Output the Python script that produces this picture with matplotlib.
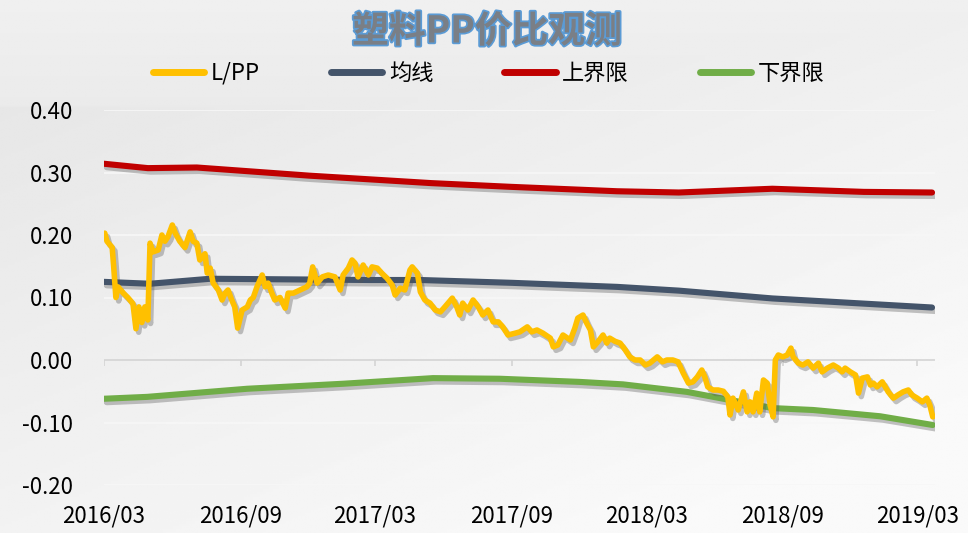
import numpy as np
import pandas as pd
import matplotlib
matplotlib.use("Agg")
import matplotlib.pyplot as plt
import matplotlib.patheffects as pe

plt.rcParams['font.family'] = ['Noto Sans CJK SC', 'DejaVu Sans']

start = pd.Timestamp('2016-03-01')

# L/PP 价比 (天数从 2016/03/01 起算)
lpp_days = [1, 4, 11, 13, 16, 19, 26, 32, 39, 43, 47, 51, 55, 59, 62, 66, 73, 78, 82, 86,
            92, 96, 102, 109, 116, 120, 125, 129, 136, 139, 143, 147, 154, 159, 163, 167, 172, 176, 180, 186,
            193, 197, 201, 206, 213, 217, 221, 226, 230, 237, 244, 248, 255, 264, 273, 277, 281, 287, 294, 302,
            311, 318, 322, 329, 334, 338, 342, 349, 356, 361, 368, 374, 381, 388, 392, 399, 405, 412, 415, 422,
            426, 432, 439, 446, 453, 459, 469, 475, 479, 483, 490, 497, 504, 510, 517, 524, 531, 537, 544, 554,
            560, 570, 576, 583, 591, 601, 605, 611, 618, 628, 634, 638, 645, 650, 655, 659, 665, 672, 677, 681,
            688, 695, 702, 708, 715, 722, 729, 735, 745, 752, 758, 766, 773, 780, 787, 793, 799, 805, 809, 813,
            820, 827, 834, 840, 843, 847, 854, 861, 866, 870, 874, 879, 883, 888, 893, 897, 901, 904, 908, 914,
            920, 925, 928, 935, 941, 948, 955, 962, 967, 974, 982, 989, 994, 998, 1005, 1012, 1016, 1021, 1028, 1032,
            1036, 1041, 1048, 1052, 1056, 1063, 1069, 1076, 1083, 1088, 1095, 1102, 1108, 1112, 1116]
lpp_vals = [0.203, 0.190, 0.180, 0.150, 0.100, 0.117, 0.107, 0.100, 0.090, 0.050, 0.085, 0.060, 0.085, 0.064, 0.187, 0.173, 0.176, 0.200, 0.190, 0.197,
            0.216, 0.203, 0.190, 0.180, 0.205, 0.190, 0.187, 0.160, 0.170, 0.139, 0.147, 0.123, 0.112, 0.096, 0.107, 0.112, 0.096, 0.085, 0.051, 0.080,
            0.085, 0.096, 0.100, 0.117, 0.136, 0.117, 0.123, 0.107, 0.096, 0.100, 0.083, 0.107, 0.107, 0.112, 0.117, 0.123, 0.149, 0.123, 0.133, 0.136,
            0.133, 0.112, 0.136, 0.147, 0.160, 0.155, 0.133, 0.152, 0.136, 0.149, 0.147, 0.139, 0.131, 0.120, 0.104, 0.115, 0.112, 0.144, 0.149, 0.139,
            0.109, 0.096, 0.091, 0.080, 0.077, 0.085, 0.099, 0.085, 0.072, 0.091, 0.080, 0.096, 0.085, 0.072, 0.080, 0.061, 0.061, 0.053, 0.040, 0.043,
            0.045, 0.053, 0.045, 0.048, 0.043, 0.035, 0.021, 0.024, 0.040, 0.032, 0.051, 0.067, 0.072, 0.059, 0.048, 0.021, 0.029, 0.040, 0.027, 0.035,
            0.030, 0.027, 0.016, 0.005, 0.000, 0.000, -0.008, -0.005, 0.005, -0.003, 0.000, 0.000, -0.003, -0.021, -0.037, -0.035, -0.027, -0.016, -0.027, -0.043,
            -0.048, -0.048, -0.050, -0.059, -0.088, -0.061, -0.080, -0.051, -0.083, -0.067, -0.083, -0.053, -0.083, -0.032, -0.037, -0.072, -0.091, 0.000, 0.008, 0.005,
            0.008, 0.019, 0.005, -0.005, -0.008, -0.003, -0.013, -0.005, -0.019, -0.013, -0.008, -0.013, -0.019, -0.013, -0.019, -0.024, -0.053, -0.029, -0.027, -0.040,
            -0.037, -0.043, -0.035, -0.043, -0.051, -0.061, -0.056, -0.051, -0.048, -0.056, -0.061, -0.067, -0.061, -0.072, -0.091]

# 均线
mean_days = [0, 62, 143, 358, 426, 549, 691, 774, 900, 982, 1115]
mean_vals = [0.125, 0.122, 0.130, 0.128, 0.128, 0.1235, 0.117, 0.111, 0.0985, 0.093, 0.084]

# 上界限
upper_days = [0, 59, 125, 276, 441, 549, 691, 774, 900, 1023, 1115]
upper_vals = [0.314, 0.307, 0.308, 0.295, 0.283, 0.277, 0.270, 0.268, 0.274, 0.269, 0.268]

# 下界限
lower_days = [0, 58, 193, 322, 443, 533, 640, 699, 785, 843, 901, 955, 1045, 1116]
lower_vals = [-0.062, -0.059, -0.046, -0.038, -0.029, -0.030, -0.035, -0.039, -0.051, -0.064, -0.077, -0.080, -0.090, -0.104]

series_names = ['L/PP', '均线', '上界限', '下界限']
colors = ['#FFC000', '#44546A', '#C00000', '#70AD47']
tick_dates = pd.date_range('2016-03-01', '2019-03-01', freq='6MS')
yticks = [-0.2, -0.1, 0.0, 0.1, 0.2, 0.3, 0.4]


def to_dates(days):
    return start + pd.to_timedelta(days, unit='D')


fig = plt.figure(figsize=(9.68, 5.33), dpi=100)

# 背景渐变
bg = fig.add_axes([0, 0, 1, 1], zorder=-10)
yy, xx = np.mgrid[0:1:200j, 0:1:300j]
grad = 0.905 + 0.075 * np.clip(0.55 * xx + 0.75 * yy - 0.15, 0, 1)
grad[:40, :] = np.maximum(grad[:40, :], 0.94 - 0.1 * yy[:40, :])
bg.imshow(grad, cmap='gray', vmin=0, vmax=1, aspect='auto', extent=[0, 1, 0, 1], origin='upper')
bg.axis('off')

ax = fig.add_axes([104 / 968, 48 / 533, 831 / 968, 375 / 533])
ax.patch.set_alpha(0)

shadow = [pe.SimpleLineShadow(offset=(2, -2.5), shadow_color='#555555', alpha=0.35), pe.Normal()]

data = [(upper_days, upper_vals), (mean_days, mean_vals), (lower_days, lower_vals), (lpp_days, lpp_vals)]
order = [2, 1, 3, 0]
handles = {}
for (d, v), idx in zip(data, order):
    lw = 4 if idx == 0 else 4.4
    line, = ax.plot(to_dates(d), v, color=colors[idx], lw=lw, solid_joinstyle='round',
                    solid_capstyle='round', path_effects=shadow, label=series_names[idx], zorder=3)
    handles[idx] = line

ax.set_ylim(-0.2, 0.4)
ax.set_xlim(start, start + pd.Timedelta(days=1119))
ax.set_yticks(yticks)
ax.set_yticklabels([f'{t:.2f}' for t in yticks])
ax.set_xticks(tick_dates)
ax.set_xticklabels([t.strftime('%Y/%m') for t in tick_dates])
ax.tick_params(axis='y', length=0, pad=22, labelsize=16)
ax.tick_params(axis='x', length=0, pad=14, labelsize=16)
for s in ax.spines.values():
    s.set_visible(False)

for t in yticks:
    if t != 0:
        ax.axhline(t, color='#f7f7f7', lw=1.2, zorder=1)
ax.axhline(0, color='#d4d4d4', lw=1.2, zorder=1)
ax.vlines(tick_dates, -0.009, 0, color='#d4d4d4', lw=1.2, zorder=1)

# 标题
fig.text(0.503, 0.940, '塑料PP价比观测', ha='center', va='center', fontsize=26.5,
         fontweight='bold', color='#7a7f86',
         path_effects=[pe.Stroke(linewidth=2.5, foreground='#5b9bd5'), pe.Normal()])

leg = fig.legend([handles[i] for i in range(4)], series_names, loc='center',
                 bbox_to_anchor=(0.505, 0.863), ncol=4, frameon=False, fontsize=16,
                 handlelength=2.3, handletextpad=0.3, columnspacing=3.2)
for h in leg.legend_handles:
    h.set_linewidth(5)
    h.set_path_effects([])

fig.savefig('out.png', dpi=100)
